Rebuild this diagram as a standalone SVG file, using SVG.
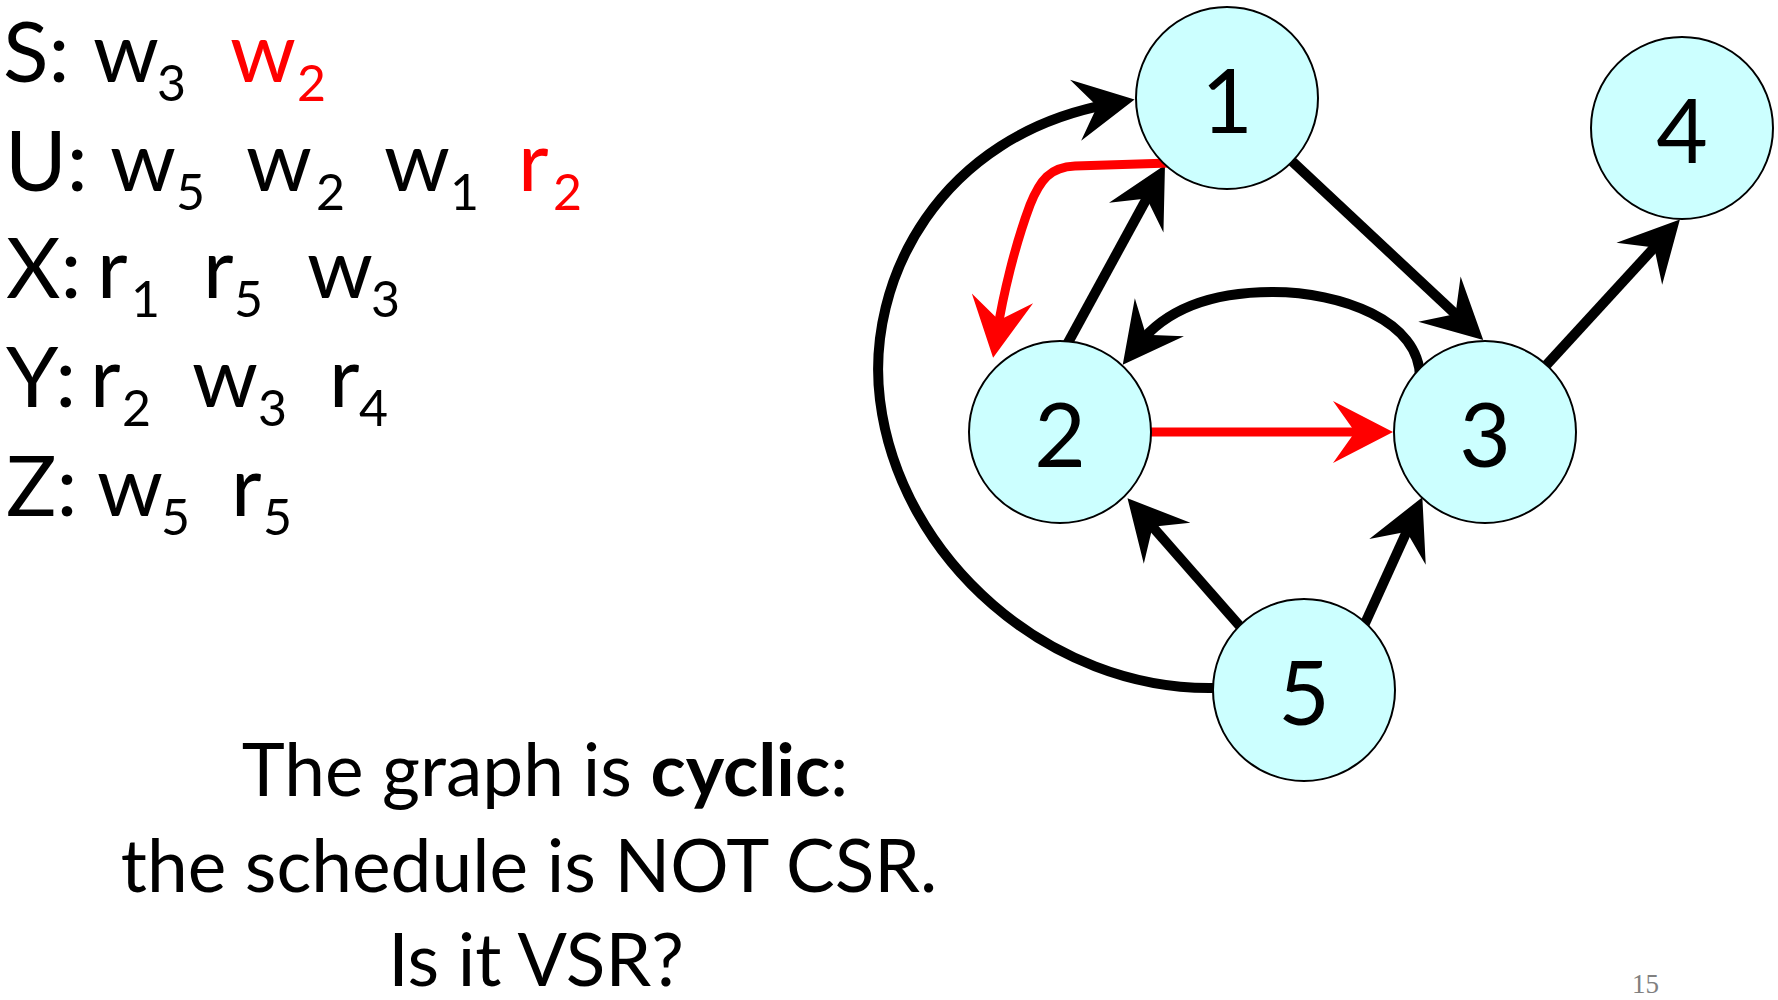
<svg xmlns="http://www.w3.org/2000/svg" width="1778" height="1000" viewBox="0 0 1778 1000">
<style>
.t{font-family:Lato,"Open Sans","Liberation Sans",sans-serif;font-size:84px;fill:#000}
.s{font-size:50px}
.red{fill:#ff0000}
.b{font-family:Lato,"Open Sans","Liberation Sans",sans-serif;font-size:73px;fill:#000;text-anchor:middle}
.node circle{fill:#ccffff;stroke:#000;stroke-width:2}
.node text{font-family:Lato,"Open Sans","Liberation Sans",sans-serif;font-size:89px;fill:#000;text-anchor:middle}
.k{fill:none;stroke:#000;stroke-width:10}
.r{fill:none;stroke:#ff0000;stroke-width:9}
</style>
<defs>
<marker id="ak" markerUnits="userSpaceOnUse" orient="auto" overflow="visible" markerWidth="1" markerHeight="1" refX="0" refY="0"><path d="M25,0 L-35,-31 L-13,0 L-35,31 Z" fill="#000"/></marker>
<marker id="ar" markerUnits="userSpaceOnUse" orient="auto" overflow="visible" markerWidth="1" markerHeight="1" refX="0" refY="0"><path d="M25,0 L-35,-31 L-13,0 L-35,31 Z" fill="#ff0000"/></marker>
</defs>
<rect width="1778" height="1000" fill="#fff"/>
<g id="schedule">
<text class="t"><tspan x="3" y="82">S:</tspan><tspan x="93" y="82">w</tspan><tspan class="s" x="157" y="101">3</tspan><tspan class="red" x="230" y="82">w</tspan><tspan class="s red" x="297" y="101">2</tspan></text>
<text class="t"><tspan x="5" y="191">U:</tspan><tspan x="110" y="191">w</tspan><tspan class="s" x="176" y="210">5</tspan><tspan x="246" y="191">w</tspan><tspan class="s" x="316" y="210">2</tspan><tspan x="384" y="191">w</tspan><tspan class="s" x="450" y="210">1</tspan><tspan class="red" x="518" y="191">r</tspan><tspan class="s red" x="553" y="210">2</tspan></text>
<text class="t"><tspan x="6" y="298">X:</tspan><tspan x="97" y="298">r</tspan><tspan class="s" x="131" y="317">1</tspan><tspan x="203" y="298">r</tspan><tspan class="s" x="234" y="317">5</tspan><tspan x="307" y="298">w</tspan><tspan class="s" x="371" y="317">3</tspan></text>
<text class="t"><tspan x="6" y="407">Y:</tspan><tspan x="90" y="407">r</tspan><tspan class="s" x="122" y="426">2</tspan><tspan x="192" y="407">w</tspan><tspan class="s" x="258" y="426">3</tspan><tspan x="329" y="407">r</tspan><tspan class="s" x="359" y="426">4</tspan></text>
<text class="t"><tspan x="6" y="516">Z:</tspan><tspan x="97" y="516">w</tspan><tspan class="s" x="161" y="535">5</tspan><tspan x="231" y="516">r</tspan><tspan class="s" x="263" y="535">5</tspan></text>
</g>
<g id="caption">
<text class="b" x="545" y="796">The graph is <tspan font-weight="bold">cyclic</tspan>:</text>
<text class="b" x="529" y="892">the schedule is NOT CSR.</text>
<text class="b" x="536" y="986">Is it VSR?</text>
</g>
<text x="1632" y="993" font-family="Liberation Serif,serif" font-size="27" fill="#808080">15</text>
<g id="connectors">
<path id="e5-1" class="k" d="M1213,688 C1050,690 900,560 880,400 C865,280 940,135 1110,104" marker-end="url(#ak)"/>
<path id="e2-1" class="k" d="M1064,350 L1153,187" marker-end="url(#ak)"/>
<path id="e1-3" class="k" d="M1280,150 L1465,323" marker-end="url(#ak)"/>
<path id="e3-2" class="k" d="M1420,378 C1420,320 1340,292 1273,292 C1210,292 1165,310 1138,345" marker-end="url(#ak)"/>
<path id="e3-4" class="k" d="M1540,372 L1663,238" marker-end="url(#ak)"/>
<path id="e5-2" class="k" d="M1245,632 L1144,517" marker-end="url(#ak)"/>
<path id="e5-3" class="k" d="M1362,630 L1412,520" marker-end="url(#ak)"/>
<path id="e2-3" class="r" d="M1150,432 L1368,432" marker-end="url(#ar)"/>
<path id="e1-2" class="r" d="M1170,163 L1075,166 C1050,167 1040,180 1030,205 C1015,245 1003,295 997,333" marker-end="url(#ar)"/>
</g>
<g id="node1" class="node"><circle cx="1227" cy="98" r="91"/><text x="1227" y="133">1</text></g>
<g id="node2" class="node"><circle cx="1060" cy="432" r="91"/><text x="1060" y="467">2</text></g>
<g id="node3" class="node"><circle cx="1485" cy="432" r="91"/><text x="1485" y="467">3</text></g>
<g id="node4" class="node"><circle cx="1682" cy="128" r="91"/><text x="1682" y="163">4</text></g>
<g id="node5" class="node"><circle cx="1304" cy="690" r="91"/><text x="1304" y="725">5</text></g>
</svg>
